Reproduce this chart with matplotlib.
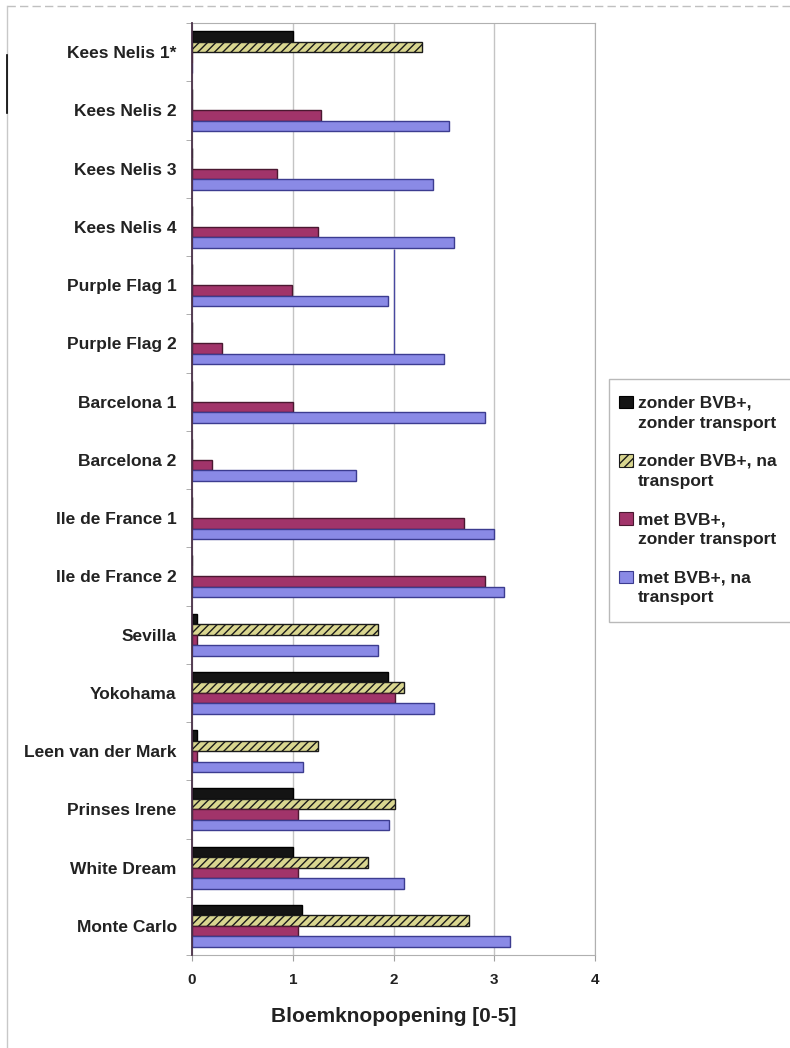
import matplotlib
matplotlib.use("Agg")
import matplotlib.pyplot as plt
import numpy as np
from matplotlib.patches import Rectangle, Patch
from matplotlib.legend_handler import HandlerPatch
from matplotlib.lines import Line2D

plt.rcParams['font.family'] = ['Liberation Sans', 'DejaVu Sans']
plt.rcParams['font.weight'] = 'bold'
plt.rcParams['axes.labelweight'] = 'bold'
plt.rcParams['hatch.linewidth'] = 1.0

rassen = ['Kees Nelis 1*', 'Kees Nelis 2', 'Kees Nelis 3', 'Kees Nelis 4',
          'Purple Flag 1', 'Purple Flag 2', 'Barcelona 1', 'Barcelona 2',
          'Ile de France 1', 'Ile de France 2', 'Sevilla', 'Yokohama',
          'Leen van der Mark', 'Prinses Irene', 'White Dream', 'Monte Carlo']

# bloemknopopening per behandeling
zonder_bvb_zonder_tr = [1.0, 0, 0, 0, 0, 0, 0, 0, 0, 0, 0.05, 1.95, 0.05, 1.0, 1.0, 1.09]
zonder_bvb_na_tr = [2.28, 0, 0, 0, 0, 0, 0, 0, 0, 0, 1.85, 2.1, 1.25, 2.01, 1.75, 2.75]
met_bvb_zonder_tr = [0, 1.28, 0.84, 1.25, 0.99, 0.3, 1.0, 0.2, 2.7, 2.91, 0.05, 2.01, 0.05, 1.05, 1.05, 1.05]
met_bvb_na_tr = [0, 2.55, 2.39, 2.6, 1.95, 2.5, 2.91, 1.63, 3.0, 3.1, 1.85, 2.4, 1.1, 1.96, 2.1, 3.16]

labels = ['zonder BVB+,\nzonder transport', 'zonder BVB+, na\ntransport',
          'met BVB+,\nzonder transport', 'met BVB+, na\ntransport']

stijlen = [
    dict(facecolor='#141414', edgecolor='#000000', hatch=None),
    dict(facecolor='#d9d690', edgecolor='#1a1a1a', hatch='////'),
    dict(facecolor='#a1346a', edgecolor='#4a1830', hatch=None),
    dict(facecolor='#8a8ae6', edgecolor='#3c3c90', hatch=None),
]

fig = plt.figure(figsize=(7.9, 10.48), dpi=100)
ax = fig.add_axes([192 / 790, 1 - 955 / 1048, (595 - 192) / 790, (955 - 23) / 1048])

y = np.arange(len(rassen))
h = 0.18
reeksen = [zonder_bvb_zonder_tr, zonder_bvb_na_tr, met_bvb_zonder_tr, met_bvb_na_tr]
for i, (vals, st) in enumerate(zip(reeksen, stijlen)):
    ax.barh(y + (i - 1.5) * h, vals, height=h, facecolor=st['facecolor'],
            edgecolor=st['edgecolor'], hatch=st['hatch'], linewidth=1.0, zorder=3)

ax.set_xlim(0, 4)
ax.set_ylim(len(rassen) - 0.5, -0.5)
ax.set_xticks([0, 1, 2, 3, 4])
ax.tick_params(axis='x', length=4, color='#a0a0a0', pad=9, labelsize=11, labelcolor='#222222')
ax.set_yticks(y)
ax.set_yticklabels(rassen)
ax.tick_params(axis='y', length=0, pad=11, labelsize=12.5, labelcolor='#222222')
ax.set_yticks(np.arange(len(rassen) + 1) - 0.5, minor=True)
ax.tick_params(axis='y', which='minor', length=4, color='#a0a0a0')

ax.grid(axis='x', color='#c4c4c4', linewidth=1.0, zorder=0)
ax.axvline(2, ymin=0.644, ymax=0.756, color='#4848a0', linewidth=1.0, zorder=2)
for side in ['top', 'right', 'bottom']:
    ax.spines[side].set_color('#b0b0b0')
ax.spines['left'].set_color('#4a3048')
ax.spines['left'].set_linewidth(1.3)
ax.spines['left'].set_zorder(4)

ax.set_xlabel('Bloemknopopening [0-5]', fontsize=15, labelpad=14, color='#222222')


# legend squares sit next to the first line of each entry
def vierkant(legend, orig_handle, xdescent, ydescent, width, height, fontsize):
    return Rectangle((-xdescent - 4.5, -ydescent + 7.8), 10.2, height)


handles = [Patch(facecolor=st['facecolor'], edgecolor=st['edgecolor'], hatch=st['hatch'],
                 linewidth=0.8) for st in stijlen]
leg = fig.legend(handles, labels, loc='upper left', bbox_to_anchor=(609 / 790, 1 - 379 / 1048),
                 frameon=True, fancybox=False, fontsize=12.5, handlelength=0.7,
                 handleheight=0.75, handletextpad=0.0, labelspacing=1.34,
                 borderpad=0.95, borderaxespad=0,
                 handler_map={Patch: HandlerPatch(patch_func=vierkant)})
leg.get_frame().set_edgecolor('#a8a8a8')
leg.get_frame().set_linewidth(1.0)
for t in leg.get_texts():
    t.set_color('#222222')
    t.set_linespacing(1.42)

# outer chart frame
fig.add_artist(Line2D([7 / 790, 1], [1 - 6 / 1048, 1 - 6 / 1048], color='#c0c0c0',
                      linewidth=1.0, linestyle=(0, (6, 3))))
fig.add_artist(Line2D([7 / 790, 7 / 790], [0, 1 - 6 / 1048], color='#c8c8c8', linewidth=1.0))
fig.add_artist(Line2D([7 / 790, 7 / 790], [1 - 55 / 1048, 1 - 113 / 1048], color='#000000',
                      linewidth=1.2))

fig.savefig('out.png', dpi=100)
